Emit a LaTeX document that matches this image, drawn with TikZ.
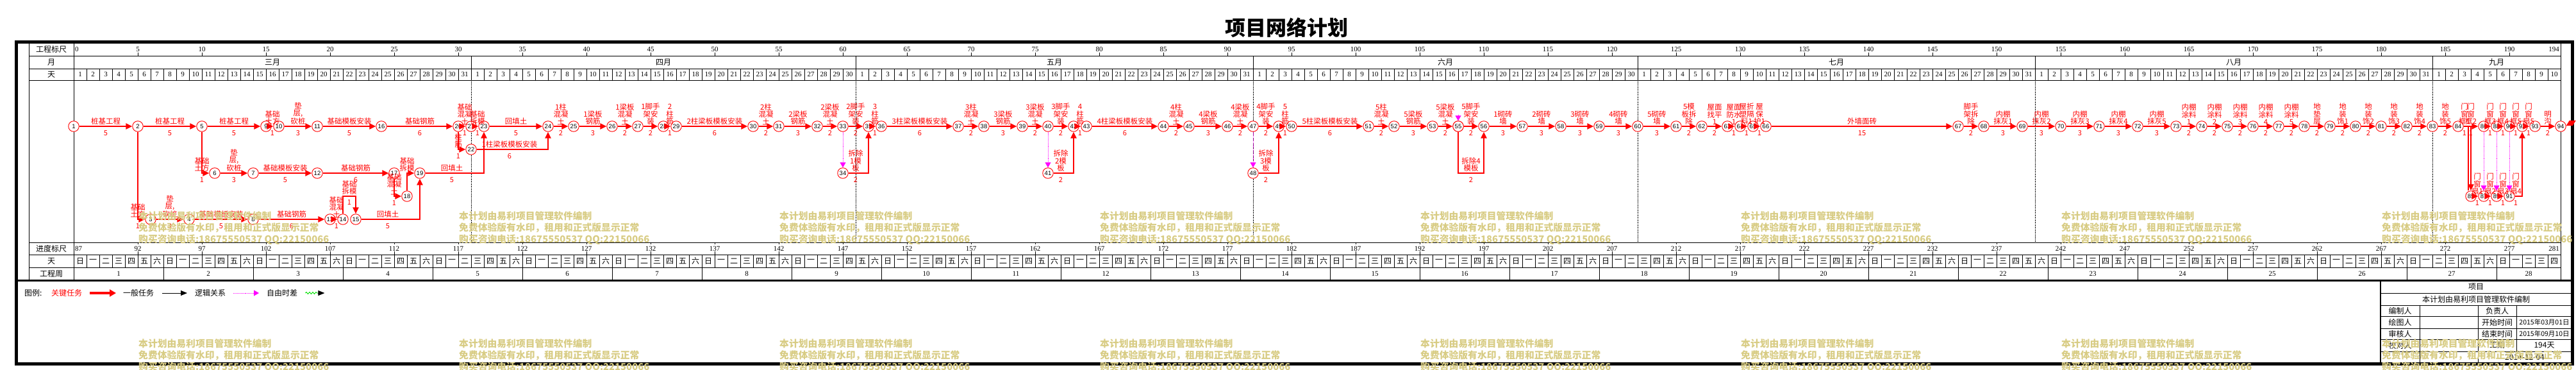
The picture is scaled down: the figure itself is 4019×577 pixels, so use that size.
\documentclass[tikz,border=0pt]{standalone}
\usepackage{fontspec}
\setmainfont{Noto Sans CJK SC}
\newfontfamily\numfont{Liberation Serif}
\newfontfamily\evfont{Liberation Sans}
\usepackage{tikz}
\usetikzlibrary{arrows.meta, positioning, calc, decorations.pathmorphing}
\definecolor{pnred}{HTML}{FF0000}
\definecolor{pnmag}{HTML}{FF00FF}
\definecolor{pngreen}{HTML}{00E000}
\definecolor{pnmark}{HTML}{D8CC84}
\tikzset{
  tabline/.style={draw=black, line width=0.8pt},
  hd/.style={font=\fontsize{12}{12}\selectfont, inner sep=0pt},
  num/.style={font=\numfont\fontsize{11}{11}\selectfont, inner sep=0pt},
  evt/.style={circle, draw=pnred, line width=0.9pt, fill=white, minimum size=16.5pt,
    inner sep=0pt, font=\evfont\fontsize{9.5}{9.5}\selectfont},
  crit/.style={draw=pnred, line width=2.8pt, -{Triangle[length=10pt,width=9pt]}},
  logic/.style={draw=pnmag, densely dotted, line width=0.9pt, -{Triangle[length=8pt,width=9pt]}},
  tlab/.style={text=pnred, anchor=south, align=center, inner sep=0pt,
    font=\fontsize{11.5}{11.5}\selectfont},
  dlab/.style={text=pnred, inner sep=0pt, font=\fontsize{11}{11}\selectfont},
  legcrit/.style={draw=pnred, line width=4pt, -{Triangle[length=10pt,width=11pt]}},
  legnorm/.style={draw=black, line width=1pt, -{Triangle[length=10pt,width=8pt]}},
  wmtext/.style={text=pnmark, anchor=north west, align=left, inner sep=0pt,
    font=\bfseries\fontsize{14.8}{17.8}\selectfont}
}

\begin{document}
\begin{tikzpicture}[x=1pt, y=-1pt]
  \useasboundingbox (0,0) rectangle (4019,577);

  % Title
  \node[font=\bfseries\fontsize{32}{32}\selectfont] (title) at (2007,43) {项目网络计划};

  % Frame and table
  \draw[line width=5pt] (25,66) rectangle (4013,567);
  \draw[line width=3pt] (25,437) -- (4013,437);
  \foreach \x in {45,115,3995}
    \draw[tabline] (\x,66) -- (\x,437);
  \foreach \y in {87,107,125,378,397,417}
    \draw[tabline] (45,\y) -- (3995,\y);

  % Row names
  \foreach \y/\nm in {76.5/工程标尺, 97/月, 116/天, 387.5/进度标尺, 407/天, 427/工程周}
    \node[hd] at (80,\y) {\nm};

  % Top scale
  \node[num, anchor=west] at (117,76.5) {0};
  \node[num, anchor=east] at (3993,76.5) {194};
  \foreach \k [evaluate=\k as \v using {int(5*\k)}] in {1,...,38} {
    \draw[tabline] ({115+100*\k},82) -- ({115+100*\k},87);
    \node[num] at ({115+100*\k},76.5) {\v};
  }

  % Months
  \foreach \d in {31,61,92,122,153,184} {
    \draw[tabline] ({115+20*\d},87) -- ({115+20*\d},107);
    \draw[densely dotted, line width=0.6pt] ({115+20*\d},125) -- ({115+20*\d},378);
  }
  \foreach \c/\nm in {15.5/三月, 46/四月, 76.5/五月, 107/六月, 137.5/七月, 168.5/八月, 189/九月}
    \node[hd] at ({115+20*\c},97) {\nm};

  % Day cells
  \foreach \k in {1,...,193} {
    \draw[tabline] ({115+20*\k},107) -- ++(0,18);
    \draw[tabline] ({115+20*\k},397) -- ++(0,20);
  }
  \foreach \s/\n in {0/31, 31/30, 61/31, 92/30, 122/31, 153/31, 184/10}
    \foreach \d in {1,...,\n}
      \node[num] at ({105+20*(\s+\d)},116) {\d};

  % Bottom scale
  \node[num, anchor=west] at (117,387.5) {87};
  \node[num, anchor=east] at (3993,387.5) {281};
  \foreach \k [evaluate=\k as \v using {int(87+5*\k)}] in {1,...,38} {
    \draw[tabline] ({115+100*\k},378) -- ({115+100*\k},381);
    \draw[tabline] ({115+100*\k},392) -- ({115+100*\k},397);
    \node[num] at ({115+100*\k},387.5) {\v};
  }
  \foreach \k [evaluate=\k as \w using {int(mod(\k,7))}] in {0,...,193}
    \node[hd] at ({125+20*\k},407) {\ifcase\w\relax 日\or 一\or 二\or 三\or 四\or 五\or 六\fi};

  % Weeks
  \foreach \w in {1,...,27} {
    \draw[tabline] ({115+140*\w},417) -- ({115+140*\w},437);
    \node[num] at ({45+140*\w},427) {\w};
  }
  \node[num] at (3945,427) {28};

  % Events
  \foreach \n/\d/\y in {1/0/197, 2/5/197, 5/10/197, 9/15/197, 10/16/197, 11/19/197,
      16/24/197, 20/30/197, 21/31/197, 23/32/197, 24/37/197, 25/39/197, 26/42/197,
      27/44/197, 28/46/197, 29/47/197, 30/53/197, 31/55/197, 32/58/197, 33/60/197,
      35/62/197, 36/63/197, 37/69/197, 38/71/197, 39/74/197, 40/76/197, 42/78/197,
      43/79/197, 44/85/197, 45/87/197, 46/90/197, 47/92/197, 49/94/197, 50/95/197,
      51/101/197, 52/103/197, 53/106/197, 54/108/197, 55/108/197, 56/110/197,
      57/113/197, 58/116/197, 59/119/197, 60/122/197, 61/125/197, 62/127/197,
      63/129/197, 64/130/197, 65/131/197, 66/132/197, 67/147/197, 68/149/197,
      69/152/197, 70/155/197, 71/158/197, 72/161/197, 73/164/197, 74/166/197,
      75/168/197, 76/170/197, 77/172/197, 78/174/197, 79/176/197, 80/178/197,
      81/180/197, 82/182/197, 83/184/197, 84/186/197, 86/188/197, 88/189/197,
      90/190/197, 92/191/197, 93/192/197, 94/194/197,
      22/31/233,
      6/11/270, 7/14/270, 12/19/270, 17/25/270, 19/27/270, 34/60/270, 41/76/270, 48/92/270,
      18/26/306, 85/187/306, 87/188/306, 89/189/306, 91/190/306,
      3/6/342, 4/9/342, 8/14/342, 13/20/342, 14/21/342, 15/22/342}
    \node[evt] (n\n) at ({115+20*\d},\y) {\n};
  \coordinate (b14) at ({115+20*21},306);
  \coordinate (b55) at ({115+20*108},270);
  \coordinate (c55) at ({115+20*108},179);

  % Straight tasks
  \foreach \a/\b/\lab/\dur in {1/2/桩基工程/5, 2/5/桩基工程/5, 5/9/桩基工程/5,
      9/10/{基础\\土方}/1, 10/11/{垫\\层,\\砍桩}/3, 11/16/基础模板安装/5, 16/20/基础钢筋/6,
      20/21/{基础\\混凝\\土}/1, 21/23/{基础\\拆模}/1, 23/24/回填土/5,
      24/25/{1柱\\混凝\\土}/2, 25/26/{1梁板\\钢筋}/3, 26/27/{1梁板\\混凝\\土}/2,
      27/28/{1脚手\\架安\\装}/2, 28/29/{2\\柱\\筋}/1, 29/30/2柱梁板模板安装/6,
      30/31/{2柱\\混凝\\土}/2, 31/32/{2梁板\\钢筋}/3, 32/33/{2梁板\\混凝\\土}/2,
      33/35/{2脚手\\架安\\装}/2, 35/36/{3\\柱\\筋}/1, 36/37/3柱梁板模板安装/6,
      37/38/{3柱\\混凝\\土}/2, 38/39/{3梁板\\钢筋}/3, 39/40/{3梁板\\混凝\\土}/2,
      40/42/{3脚手\\架安\\装}/2, 42/43/{4\\柱\\筋}/1, 43/44/4柱梁板模板安装/6,
      44/45/{4柱\\混凝\\土}/2, 45/46/{4梁板\\钢筋}/3, 46/47/{4梁板\\混凝\\土}/2,
      47/49/{4脚手\\架安\\装}/2, 49/50/{5\\柱\\筋}/1, 50/51/5柱梁板模板安装/6,
      51/52/{5柱\\混凝\\土}/2, 52/53/{5梁板\\钢筋}/3, 53/54/{5梁板\\混凝\\土}/2,
      54/56/{5脚手\\架安\\装}/2, 56/57/{1砌砖\\墙}/3, 57/58/{2砌砖\\墙}/3,
      58/59/{3砌砖\\墙}/3, 59/60/{4砌砖\\墙}/3, 60/61/{5砌砖\\墙}/3,
      61/62/{5模\\板拆\\除}/2, 62/63/{屋面\\找平\\1}/2, 63/64/{屋面\\防水\\1}/1,
      64/65/{屋折\\塑隔\\料1}/1, 65/66/{屋\\保\\护1}/1, 66/67/外墙面砖/15,
      67/68/{脚手\\架拆\\除}/2, 68/69/{内棚\\抹灰1}/3, 69/70/{内棚\\抹灰2}/3,
      70/71/{内棚\\抹灰3}/3, 71/72/{内棚\\抹灰4}/3, 72/73/{内棚\\抹灰5}/3,
      73/74/{内棚\\涂料\\1}/2, 74/75/{内棚\\涂料\\2}/2, 75/76/{内棚\\涂料\\3}/2,
      76/77/{内棚\\涂料\\4}/2, 77/78/{内棚\\涂料\\5}/2, 78/79/{地\\垫\\层}/2,
      79/80/{地\\装\\饰1}/2, 80/81/{地\\装\\饰2}/2, 81/82/{地\\装\\饰3}/2,
      82/83/{地\\装\\饰4}/2, 83/84/{地\\装\\饰5}/2, 84/86/{门\\窗\\框2}/1,
      86/88/{门\\窗\\框3}/1, 88/90/{门\\窗\\框4}/1, 90/92/{门\\窗\\框5}/1,
      92/93/{门\\窗\\扇5}/1, 93/94/{明\\沟}/2,
      6/7/{垫\\层,\\砍桩}/3, 7/12/基础模板安装/5, 12/17/基础钢筋/6,
      3/4/{垫\\层,\\砍桩}/3, 4/8/基础模板安装/5, 8/13/基础钢筋/6, 13/14/{基础\\混凝\\土}/1,
      85/87/{门\\窗\\扇1}/1, 87/89/{门\\窗\\扇2}/1, 89/91/{门\\窗\\扇3}/1} {
    \draw[crit] (n\a) -- (n\b);
    \node[tlab] at ($(n\a)!0.5!(n\b)+(0,-2)$) {\lab};
    \node[dlab] at ($(n\a)!0.5!(n\b)+(0,11)$) {\dur};
  }

  % Down or up, then across
  \foreach \a/\b/\lab/\dur in {2/3/{基础\\土方}/1, 5/6/{基础\\土方}/1,
      17/18/{基础\\混凝\\土}/1, 20/22/{柱\\筋}/1} {
    \draw[crit] (n\a) |- (n\b);
    \node[tlab] at ($(n\a |- n\b)+(0,-2)$) {\lab};
    \node[dlab] at ($(n\a |- n\b)+(0,11)$) {\dur};
  }
  \draw[crit] (n18) |- (n19);
  \node[tlab] at ($(n18 |- n19)+(0,-2)$) {基础\\拆模};

  % Across, then up or down
  \foreach \a/\b/\lab/\dur in {19/23/回填土/5, 22/24/1柱梁板模板安装/6,
      34/35/{拆除\\1模\\板}/2, 41/42/{拆除\\2模\\板}/2, 48/49/{拆除\\3模\\板}/2,
      15/19/回填土/5, 84/85/{门\\窗\\框1}/1, 91/92/{门\\窗\\扇4}/1} {
    \draw[crit] (n\a) -| (n\b);
    \node[tlab] at ($(n\a)!0.5!(n\b |- n\a)+(0,-2)$) {\lab};
    \node[dlab] at ($(n\a)!0.5!(n\b |- n\a)+(0,11)$) {\dur};
  }
  \draw[pnred, line width=2.8pt] ($(n84 -| n85)+(-4,0)$) -- ($(n85.north)+(-4,0)$);

  % Loops
  \draw[crit] (n14) -- (b14) -| (n15);
  \node[tlab] at ($(b14)!0.5!(b14 -| n15)+(0,-2)$) {基础\\拆模};
  \node[dlab] at ($(b14)!0.5!(b14 -| n15)+(0,10)$) {1};
  \draw[crit] (n55) -- (b55) -| (n56);
  \node[tlab] at ($(b55)!0.5!(b55 -| n56)+(0,-2)$) {拆除4\\模板};
  \node[dlab] at ($(b55)!0.5!(b55 -| n56)+(0,11)$) {2};

  % Logic links
  \foreach \a/\b in {33/34, 40/41, 47/48, 86/87, 88/89, 90/91}
    \draw[logic] (n\a) -- (n\b);
  \draw[logic] (c55) -- (n55);

  % End flag
  \fill[pnred] ($(n94.east)+(0,-1)$) -- ++(5,-8) -- ++(10,0) -- ++(-5,8) -- cycle;

  % Legend
  \node[hd, anchor=west] (lg0) at (38,457) {图例:};
  \node[hd, anchor=west, text=pnred] (lg1) at (80,457) {关键任务};
  \node[hd, anchor=west] (lg2) at (192,457) {一般任务};
  \node[hd, anchor=west] (lg3) at (304,457) {逻辑关系};
  \node[hd, anchor=west] (lg4) at (416,457) {自由时差};
  \coordinate (lg5) at ([xshift=42pt]lg4.east);
  \draw[legcrit] ([xshift=12pt]lg1.east) -- ([xshift=-11pt]lg2.west);
  \draw[legnorm] ([xshift=13pt]lg2.east) -- ([xshift=-12pt]lg3.west);
  \draw[logic] ([xshift=12pt]lg3.east) -- ([xshift=-12pt]lg4.west);
  \draw[pngreen, line width=0.9pt, decorate, decoration={snake, amplitude=1.5pt, segment length=5pt}]
    ([xshift=12pt]lg4.east) -- ([xshift=-10pt]lg5);
  \draw[legnorm] ([xshift=-10pt]lg5) -- (lg5);

  % Title block
  \draw[line width=1.6pt] (3714,437) -- (3714,567);
  \foreach \y in {457,476,493,512,529,548}
    \draw[tabline] (3714,\y) -- (4013,\y);
  \foreach \x in {3775,3866,3926}
    \draw[tabline] (\x,476) -- (\x,548);
  \foreach \x in {3775,3866}
    \draw[tabline] (\x,548) -- (\x,567);
  \node[hd] at (3863,447) {项目};
  \node[hd] at (3863,466.5) {本计划由易利项目管理软件编制};
  \foreach \y/\p/\q in {484.5/编制人/负责人, 502.5/绘图人/开始时间, 520.5/审核人/结束时间, 538.5/校对人/工期}
    \node[hd] at (3744.5,\y) {\p} node[hd] at (3896,\y) {\q};
  \node[hd, font=\fontsize{10.5}{10.5}\selectfont] at (3969.5,502.5) {2015年03月01日};
  \node[hd, font=\fontsize{10.5}{10.5}\selectfont] at (3969.5,520.5) {2015年09月10日};
  \node[hd] at (3969.5,538.5) {194天};
  \node[hd] at (3939,557.5) {2014-12-04};

  % Watermarks
  \foreach \x in {216,716,...,3716}
    \foreach \y in {329.5,528.5}
      \node[wmtext] at (\x,\y) {本计划由易利项目管理软件编制\\免费体验版有水印，租用和正式版显示正常\\购买咨询电话:18675550537 QQ:22150066};
\end{tikzpicture}
\end{document}
